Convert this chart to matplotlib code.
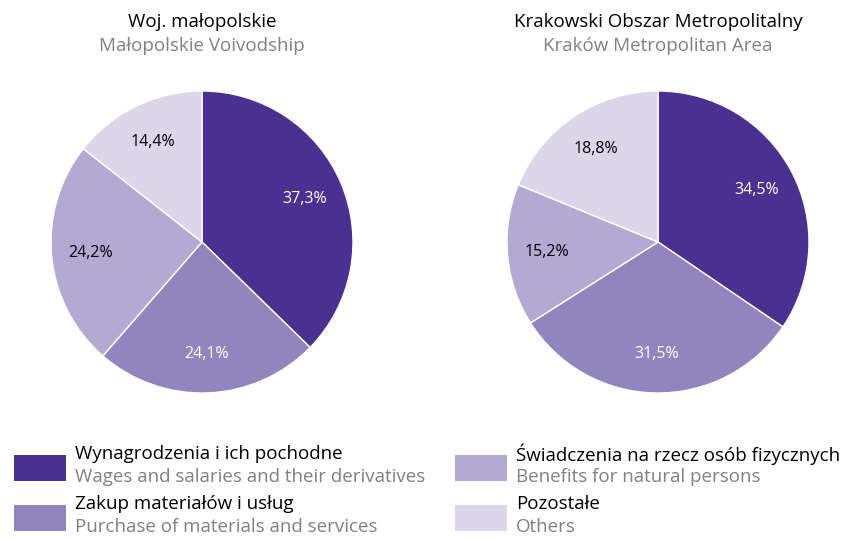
import matplotlib.pyplot as plt
from matplotlib.patches import Rectangle

plt.rcParams['font.family'] = ['Open Sans', 'DejaVu Sans']

W, H = 850, 538

titles_pl = ['Woj. małopolskie', 'Krakowski Obszar Metropolitalny']
titles_en = ['Małopolskie Voivodship', 'Kraków Metropolitan Area']

cats_pl = ['Wynagrodzenia i ich pochodne', 'Zakup materiałów i usług',
           'Świadczenia na rzecz osób fizycznych', 'Pozostałe']
cats_en = ['Wages and salaries and their derivatives', 'Purchase of materials and services',
           'Benefits for natural persons', 'Others']

malopolskie = [37.3, 24.1, 24.2, 14.4]
krakow = [34.5, 31.5, 15.2, 18.8]

colors = ['#4a3191', '#9284bf', '#b3a9d3', '#dbd6ea']
label_colors = ['white', 'white', 'black', 'black']

fig = plt.figure(figsize=(W / 100, H / 100), dpi=100)

def fmt(p):
    return ('%.1f%%' % p).replace('.', ',')

centers = [202, 658]
r = 151
for i, vals in enumerate([malopolskie, krakow]):
    cx = centers[i]
    ax = fig.add_axes([(cx - r) / W, 1 - (242 + r) / H, 2 * r / W, 2 * r / H])
    wedges, texts, autotexts = ax.pie(vals, colors=colors, startangle=90, counterclock=False,
                                      autopct=fmt, pctdistance=0.74,
                                      wedgeprops=dict(edgecolor='white', linewidth=1.0))
    for t, c in zip(autotexts, label_colors):
        t.set_color(c)
        t.set_fontsize(11.5)
    ax.set_xlim(-1.0, 1.0)
    ax.set_ylim(-1.0, 1.0)
    ax.set_aspect('equal')
    fig.text(cx / W, 1 - 22 / H, titles_pl[i], ha='center', va='center', fontsize=13.5, color='black')
    fig.text(cx / W, 1 - 46 / H, titles_en[i], ha='center', va='center', fontsize=13.5, color='#808080')

# legend
pos = [(14, 455), (14, 505), (455, 455), (455, 505)]
for k in range(4):
    x, y = pos[k]
    fig.patches.append(Rectangle((x / W, 1 - (y + 26) / H), 52 / W, 26 / H,
                                 transform=fig.transFigure, facecolor=colors[k], edgecolor='none'))
    fig.text((x + 61) / W, 1 - (y - 1) / H, cats_pl[k], ha='left', va='center',
             fontsize=13.5, color='black')
    fig.text((x + 61) / W, 1 - (y + 22) / H, cats_en[k], ha='left', va='center',
             fontsize=13.5, color='#808080')

fig.savefig('out.png', dpi=100)
